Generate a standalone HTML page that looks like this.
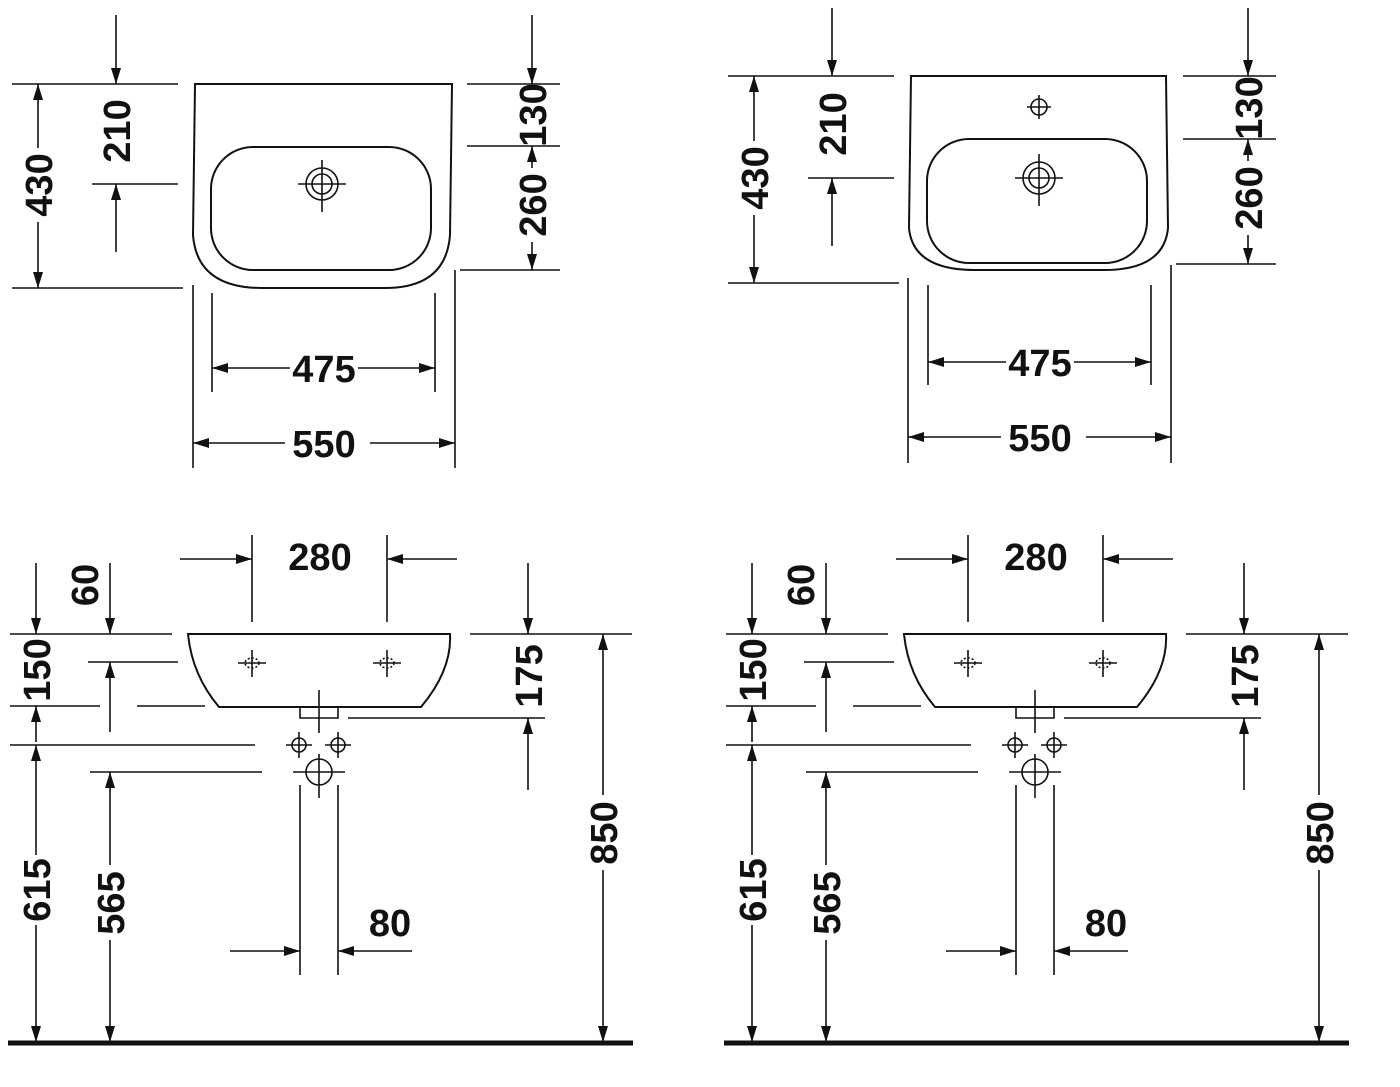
<!DOCTYPE html>
<html><head><meta charset="utf-8"><style>
html,body{margin:0;padding:0;background:#fff}
svg{display:block}
text{font-family:"Liberation Sans Narrow","Liberation Sans",sans-serif;font-weight:bold;font-size:38px;fill:#111}
</style></head><body>
<svg width="1400" height="1087" viewBox="0 0 1400 1087" xmlns="http://www.w3.org/2000/svg">
<defs>
<marker id="a" viewBox="0 0 16 10" refX="16" refY="5" markerWidth="16" markerHeight="10" markerUnits="userSpaceOnUse" orient="auto"><path d="M0,0 L16,5 L0,10 Z" fill="#111"/></marker>
</defs>

<!-- TOP LEFT -->
<g stroke="#111" stroke-width="1.6" fill="none">
<path d="M195,84 L452,84 L450,235 Q446,288 385,288 L262,288 Q197,288 193,235 Z" stroke-width="2"/>
<rect x="211" y="147" width="220" height="123" rx="42" stroke-width="2"/>
<circle cx="322" cy="184" r="16"/><circle cx="322" cy="184" r="10"/>
<line x1="298" y1="184" x2="346" y2="184"/><line x1="322" y1="160" x2="322" y2="212"/>
<line x1="12" y1="84" x2="178" y2="84"/><line x1="12" y1="288" x2="183" y2="288"/>
<line x1="38" y1="148" x2="38" y2="84" marker-end="url(#a)"/><line x1="38" y1="222" x2="38" y2="288" marker-end="url(#a)"/>
<line x1="116" y1="15" x2="116" y2="84" marker-end="url(#a)"/>
<line x1="92" y1="184" x2="178" y2="184"/>
<line x1="116" y1="252" x2="116" y2="184" marker-end="url(#a)"/>
<line x1="467" y1="84" x2="560" y2="84"/><line x1="467" y1="146" x2="560" y2="146"/><line x1="460" y1="270" x2="560" y2="270"/>
<line x1="532" y1="15" x2="532" y2="84" marker-end="url(#a)"/>
<line x1="532" y1="168" x2="532" y2="146" marker-end="url(#a)"/>
<line x1="532" y1="242" x2="532" y2="270" marker-end="url(#a)"/>
<line x1="212" y1="293" x2="212" y2="392"/><line x1="435" y1="293" x2="435" y2="392"/>
<line x1="290" y1="368" x2="212" y2="368" marker-end="url(#a)"/><line x1="358" y1="368" x2="435" y2="368" marker-end="url(#a)"/>
<line x1="193" y1="285" x2="193" y2="468"/><line x1="455" y1="270" x2="455" y2="468"/>
<line x1="285" y1="443" x2="193" y2="443" marker-end="url(#a)"/><line x1="370" y1="443" x2="455" y2="443" marker-end="url(#a)"/>
</g>
<text transform="translate(52,185) rotate(-90)" text-anchor="middle">430</text>
<text transform="translate(130,131) rotate(-90)" text-anchor="middle">210</text>
<text transform="translate(546,115) rotate(-90)" text-anchor="middle">130</text>
<text transform="translate(546,205) rotate(-90)" text-anchor="middle">260</text>
<text x="324" y="382" text-anchor="middle">475</text>
<text x="324" y="457" text-anchor="middle">550</text>

<!-- TOP RIGHT -->
<g transform="translate(716,-7)">
<g stroke="#111" stroke-width="1.6" fill="none">
<path d="M195,83 L450,83 L452,235 Q448,278 385,277 L262,277 Q197,278 193,235 Z" stroke-width="2"/>
<rect x="211" y="146" width="220" height="124" rx="42" stroke-width="2"/>
<circle cx="323" cy="185" r="16"/><circle cx="323" cy="185" r="10"/>
<line x1="299" y1="185" x2="347" y2="185"/><line x1="323" y1="161" x2="323" y2="213"/>
<circle cx="323" cy="114" r="8"/><line x1="311" y1="114" x2="335" y2="114"/><line x1="323" y1="102" x2="323" y2="126"/>
<line x1="12" y1="83" x2="178" y2="83"/><line x1="12" y1="290" x2="183" y2="290"/>
<line x1="38" y1="148" x2="38" y2="83" marker-end="url(#a)"/><line x1="38" y1="222" x2="38" y2="290" marker-end="url(#a)"/>
<line x1="116" y1="15" x2="116" y2="83" marker-end="url(#a)"/>
<line x1="92" y1="185" x2="178" y2="185"/>
<line x1="116" y1="253" x2="116" y2="185" marker-end="url(#a)"/>
<line x1="467" y1="83" x2="560" y2="83"/><line x1="467" y1="146" x2="560" y2="146"/><line x1="460" y1="271" x2="560" y2="271"/>
<line x1="532" y1="15" x2="532" y2="83" marker-end="url(#a)"/>
<line x1="532" y1="168" x2="532" y2="146" marker-end="url(#a)"/>
<line x1="532" y1="242" x2="532" y2="271" marker-end="url(#a)"/>
<line x1="212" y1="292" x2="212" y2="392"/><line x1="435" y1="292" x2="435" y2="392"/>
<line x1="290" y1="369" x2="212" y2="369" marker-end="url(#a)"/><line x1="358" y1="369" x2="435" y2="369" marker-end="url(#a)"/>
<line x1="192" y1="285" x2="192" y2="470"/><line x1="455" y1="272" x2="455" y2="470"/>
<line x1="285" y1="444" x2="192" y2="444" marker-end="url(#a)"/><line x1="370" y1="444" x2="455" y2="444" marker-end="url(#a)"/>
</g>
<text transform="translate(52,185) rotate(-90)" text-anchor="middle">430</text>
<text transform="translate(130,131) rotate(-90)" text-anchor="middle">210</text>
<text transform="translate(546,115) rotate(-90)" text-anchor="middle">130</text>
<text transform="translate(546,205) rotate(-90)" text-anchor="middle">260</text>
<text x="324" y="383" text-anchor="middle">475</text>
<text x="324" y="458" text-anchor="middle">550</text>
</g>

<!-- BOTTOM (both) -->
<g id="bl">
<g stroke="#111" stroke-width="1.6" fill="none">
<path d="M188,634 L450,634 Q452,670 421,707 L219,707 Q192,675 188,634 Z" stroke-width="2"/>
<ellipse cx="252" cy="663" rx="7" ry="5" stroke-dasharray="2,2"/><line x1="238" y1="663" x2="266" y2="663"/><line x1="252" y1="650" x2="252" y2="677"/>
<ellipse cx="387" cy="663" rx="7" ry="5" stroke-dasharray="2,2"/><line x1="373" y1="663" x2="401" y2="663"/><line x1="387" y1="650" x2="387" y2="677"/>
<path d="M300,707 L300,718 L338,718 L338,707"/>
<line x1="319" y1="690" x2="319" y2="733"/>
<circle cx="299" cy="745" r="7"/><line x1="286" y1="745" x2="312" y2="745"/><line x1="299" y1="732" x2="299" y2="758"/>
<circle cx="338" cy="745" r="7"/><line x1="325" y1="745" x2="351" y2="745"/><line x1="338" y1="732" x2="338" y2="758"/>
<circle cx="319" cy="772" r="13"/><line x1="293" y1="772" x2="345" y2="772"/><line x1="319" y1="754" x2="319" y2="798"/>
<line x1="300" y1="785" x2="300" y2="975"/><line x1="338" y1="785" x2="338" y2="975"/>
<line x1="230" y1="951" x2="300" y2="951" marker-end="url(#a)"/><line x1="412" y1="951" x2="338" y2="951" marker-end="url(#a)"/>
<line x1="252" y1="535" x2="252" y2="622"/><line x1="387" y1="535" x2="387" y2="622"/>
<line x1="180" y1="559" x2="252" y2="559" marker-end="url(#a)"/><line x1="457" y1="559" x2="387" y2="559" marker-end="url(#a)"/>
<line x1="10" y1="634" x2="172" y2="634"/>
<line x1="36" y1="563" x2="36" y2="634" marker-end="url(#a)"/>
<line x1="110" y1="563" x2="110" y2="634" marker-end="url(#a)"/>
<line x1="88" y1="662" x2="178" y2="662"/>
<line x1="110" y1="732" x2="110" y2="662" marker-end="url(#a)"/>
<line x1="10" y1="706" x2="100" y2="706"/><line x1="137" y1="706" x2="205" y2="706"/>
<line x1="36" y1="742" x2="36" y2="706" marker-end="url(#a)"/>
<line x1="10" y1="745" x2="255" y2="745"/>
<line x1="36" y1="855" x2="36" y2="745" marker-end="url(#a)"/><line x1="36" y1="925" x2="36" y2="1042" marker-end="url(#a)"/>
<line x1="90" y1="772" x2="262" y2="772"/>
<line x1="110" y1="865" x2="110" y2="772" marker-end="url(#a)"/><line x1="110" y1="940" x2="110" y2="1042" marker-end="url(#a)"/>
<line x1="470" y1="634" x2="632" y2="634"/>
<line x1="528" y1="563" x2="528" y2="634" marker-end="url(#a)"/>
<line x1="348" y1="718" x2="545" y2="718"/>
<line x1="528" y1="790" x2="528" y2="718" marker-end="url(#a)"/>
<line x1="603" y1="795" x2="603" y2="634" marker-end="url(#a)"/><line x1="603" y1="870" x2="603" y2="1042" marker-end="url(#a)"/>
</g>
<line x1="8" y1="1043" x2="633" y2="1043" stroke="#111" stroke-width="5"/>
<text x="320" y="570" text-anchor="middle">280</text>
<text transform="translate(98,585) rotate(-90)" text-anchor="middle">60</text>
<text transform="translate(50,670) rotate(-90)" text-anchor="middle">150</text>
<text transform="translate(50,890) rotate(-90)" text-anchor="middle">615</text>
<text transform="translate(124,903) rotate(-90)" text-anchor="middle">565</text>
<text transform="translate(542,676) rotate(-90)" text-anchor="middle">175</text>
<text transform="translate(617,833) rotate(-90)" text-anchor="middle">850</text>
<text x="390" y="936" text-anchor="middle">80</text>
</g>

<g transform="translate(716,0)">
<g stroke="#111" stroke-width="1.6" fill="none">
<path d="M188,634 L450,634 Q452,670 421,707 L219,707 Q192,675 188,634 Z" stroke-width="2"/>
<ellipse cx="252" cy="663" rx="7" ry="5" stroke-dasharray="2,2"/><line x1="238" y1="663" x2="266" y2="663"/><line x1="252" y1="650" x2="252" y2="677"/>
<ellipse cx="387" cy="663" rx="7" ry="5" stroke-dasharray="2,2"/><line x1="373" y1="663" x2="401" y2="663"/><line x1="387" y1="650" x2="387" y2="677"/>
<path d="M300,707 L300,718 L338,718 L338,707"/>
<line x1="319" y1="690" x2="319" y2="733"/>
<circle cx="299" cy="745" r="7"/><line x1="286" y1="745" x2="312" y2="745"/><line x1="299" y1="732" x2="299" y2="758"/>
<circle cx="338" cy="745" r="7"/><line x1="325" y1="745" x2="351" y2="745"/><line x1="338" y1="732" x2="338" y2="758"/>
<circle cx="319" cy="772" r="13"/><line x1="293" y1="772" x2="345" y2="772"/><line x1="319" y1="754" x2="319" y2="798"/>
<line x1="300" y1="785" x2="300" y2="975"/><line x1="338" y1="785" x2="338" y2="975"/>
<line x1="230" y1="951" x2="300" y2="951" marker-end="url(#a)"/><line x1="412" y1="951" x2="338" y2="951" marker-end="url(#a)"/>
<line x1="252" y1="535" x2="252" y2="622"/><line x1="387" y1="535" x2="387" y2="622"/>
<line x1="180" y1="559" x2="252" y2="559" marker-end="url(#a)"/><line x1="457" y1="559" x2="387" y2="559" marker-end="url(#a)"/>
<line x1="10" y1="634" x2="172" y2="634"/>
<line x1="36" y1="563" x2="36" y2="634" marker-end="url(#a)"/>
<line x1="110" y1="563" x2="110" y2="634" marker-end="url(#a)"/>
<line x1="88" y1="662" x2="178" y2="662"/>
<line x1="110" y1="732" x2="110" y2="662" marker-end="url(#a)"/>
<line x1="10" y1="706" x2="100" y2="706"/><line x1="137" y1="706" x2="205" y2="706"/>
<line x1="36" y1="742" x2="36" y2="706" marker-end="url(#a)"/>
<line x1="10" y1="745" x2="255" y2="745"/>
<line x1="36" y1="855" x2="36" y2="745" marker-end="url(#a)"/><line x1="36" y1="925" x2="36" y2="1042" marker-end="url(#a)"/>
<line x1="90" y1="772" x2="262" y2="772"/>
<line x1="110" y1="865" x2="110" y2="772" marker-end="url(#a)"/><line x1="110" y1="940" x2="110" y2="1042" marker-end="url(#a)"/>
<line x1="470" y1="634" x2="632" y2="634"/>
<line x1="528" y1="563" x2="528" y2="634" marker-end="url(#a)"/>
<line x1="348" y1="718" x2="545" y2="718"/>
<line x1="528" y1="790" x2="528" y2="718" marker-end="url(#a)"/>
<line x1="603" y1="795" x2="603" y2="634" marker-end="url(#a)"/><line x1="603" y1="870" x2="603" y2="1042" marker-end="url(#a)"/>
</g>
<line x1="8" y1="1043" x2="633" y2="1043" stroke="#111" stroke-width="5"/>
<text x="320" y="570" text-anchor="middle">280</text>
<text transform="translate(98,585) rotate(-90)" text-anchor="middle">60</text>
<text transform="translate(50,670) rotate(-90)" text-anchor="middle">150</text>
<text transform="translate(50,890) rotate(-90)" text-anchor="middle">615</text>
<text transform="translate(124,903) rotate(-90)" text-anchor="middle">565</text>
<text transform="translate(542,676) rotate(-90)" text-anchor="middle">175</text>
<text transform="translate(617,833) rotate(-90)" text-anchor="middle">850</text>
<text x="390" y="936" text-anchor="middle">80</text>
</g>
</svg>
</body></html>
